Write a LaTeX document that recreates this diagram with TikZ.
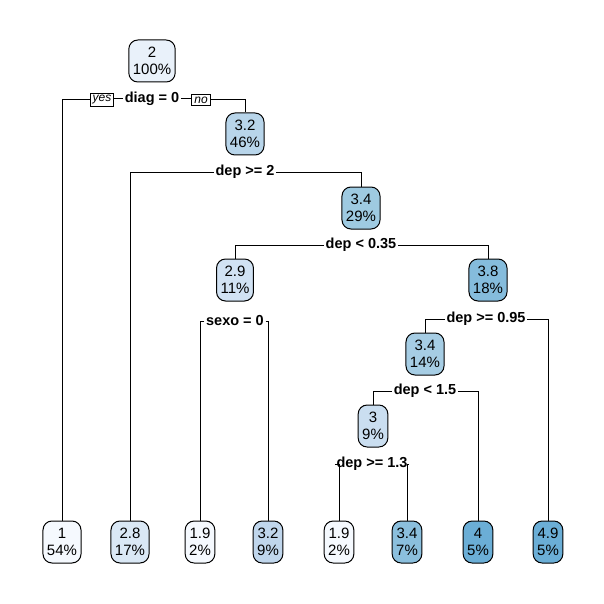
\documentclass[tikz,border=0pt]{standalone}
\usepackage{fontspec}
\setmainfont{Liberation Sans}
\definecolor{cA}{HTML}{F5F9FE}
\definecolor{cRoot}{HTML}{E9F1FA}
\definecolor{cB}{HTML}{DAE8F5}
\definecolor{cC}{HTML}{D1E2F3}
\definecolor{cD}{HTML}{CADEF0}
\definecolor{cE}{HTML}{B8D5EA}
\definecolor{cE2}{HTML}{C0D6EC}
\definecolor{cF}{HTML}{9ECAE1}
\definecolor{cF2}{HTML}{A6CDE4}
\definecolor{cF3}{HTML}{8BBFDD}
\definecolor{cG}{HTML}{85BCDC}
\definecolor{cH}{HTML}{6BAED6}
\tikzset{
  tnode/.style={draw=black, line width=1pt, rounded corners=9pt, align=center,
    inner xsep=4pt, inner ysep=3pt, minimum height=42pt,
    font=\fontsize{15}{17.5}\selectfont},
  splitlab/.style={inner sep=1.5pt, font=\fontsize{14.5}{16}\selectfont\bfseries},
  yn/.style={draw=black, line width=0.8pt, inner xsep=2.5pt, inner ysep=2pt,
    font=\fontsize{12}{13}\selectfont\itshape},
  conn/.style={line width=1pt}
}
\begin{document}
\begin{tikzpicture}[x=1pt,y=-1pt]
\useasboundingbox (0,0) rectangle (604,604);
% internal nodes
\node[tnode, fill=cRoot] (n1) at (152,61) {2\\100\%};
\node[tnode, fill=cE] (n3) at (245,134) {3.2\\46\%};
\node[tnode, fill=cF] (n7) at (361,208) {3.4\\29\%};
\node[tnode, fill=cC] (n14) at (235,280) {2.9\\11\%};
\node[tnode, fill=cG] (n15) at (488,280) {3.8\\18\%};
\node[tnode, fill=cF2] (n30) at (425,354) {3.4\\14\%};
\node[tnode, fill=cD] (n60) at (373,426) {3\\9\%};
% leaves
\node[tnode, fill=cA] (l1) at (62,542) {1\\54\%};
\node[tnode, fill=cB] (l2) at (130,542) {2.8\\17\%};
\node[tnode, fill=cA] (l3) at (200,542) {1.9\\2\%};
\node[tnode, fill=cE2] (l4) at (268,542) {3.2\\9\%};
\node[tnode, fill=cA] (l5) at (339,542) {1.9\\2\%};
\node[tnode, fill=cF3] (l6) at (407,542) {3.4\\7\%};
\node[tnode, fill=cH] (l7) at (478,542) {4\\5\%};
\node[tnode, fill=cH] (l8) at (548,542) {4.9\\5\%};
% split labels
\node[splitlab] (s1) at (152,99) {diag = 0};
\node[yn] (yes) at (102,100) {yes};
\node[yn] (no) at (201,100) {no};
\node[splitlab] (s3) at (245,172) {dep >= 2};
\node[splitlab] (s7) at (361,245) {dep < 0.35};
\node[splitlab] (s14) at (235,321) {sexo = 0};
\node[splitlab] (s15) at (486,319) {dep >= 0.95};
\node[splitlab] (s30) at (425,391) {dep < 1.5};
\node[splitlab] (s60) at (372,464) {dep >= 1.3};
% connectors
\draw[conn] (s1.west) -- (s1.west -| yes.east);
\draw[conn] (yes.west) -| (l1.north);
\draw[conn] (s1.east) -- (s1.east -| no.west);
\draw[conn] (no.east) -| (n3.north);
\draw[conn] (s3.west) -| (l2.north);
\draw[conn] (s3.east) -| (n7.north);
\draw[conn] (s7.west) -| (n14.north);
\draw[conn] (s7.east) -| (n15.north);
\draw[conn] (s14.west) -| (l3.north);
\draw[conn] (s14.east) -| (l4.north);
\draw[conn] (s15.west) -| (n30.north);
\draw[conn] (s15.east) -| (l8.north);
\draw[conn] (s30.west) -| (n60.north);
\draw[conn] (s30.east) -| (l7.north);
\draw[conn] (s60.west) -| (l5.north);
\draw[conn] (s60.east) -| (l6.north);
\end{tikzpicture}
\end{document}
